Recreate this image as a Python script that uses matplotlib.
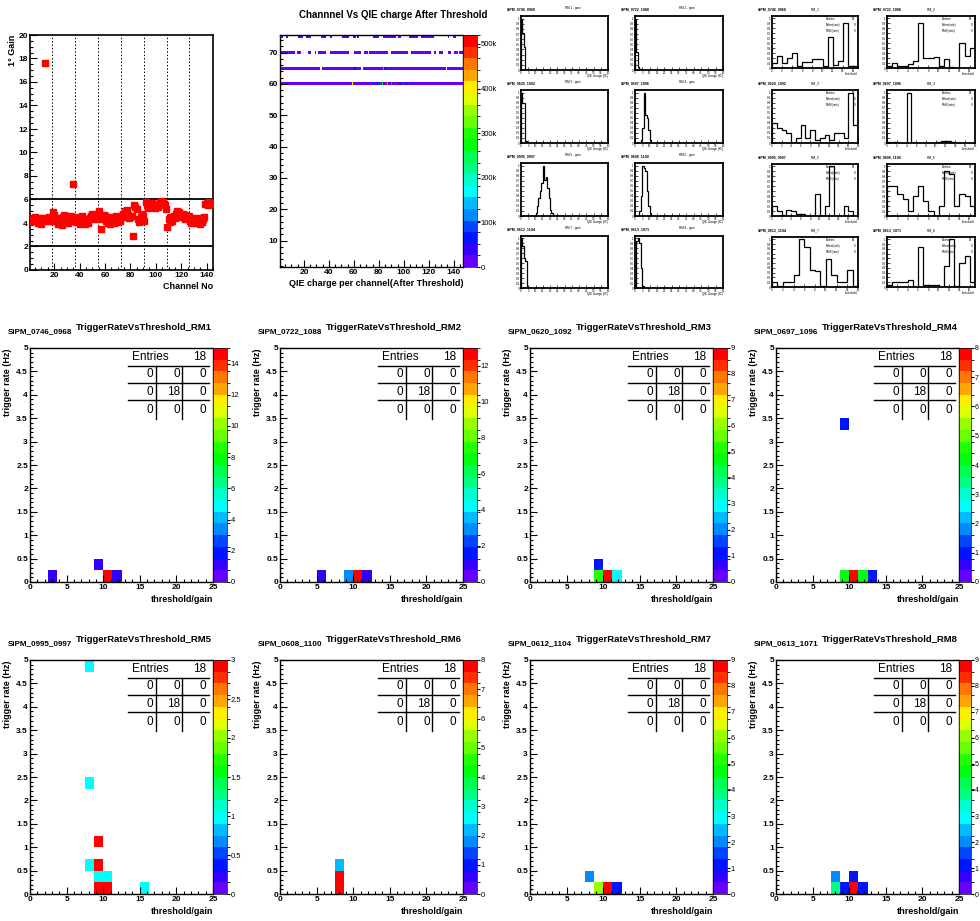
import numpy as np
import matplotlib
matplotlib.use('Agg')
import matplotlib.pyplot as plt
from matplotlib.colors import ListedColormap, BoundaryNorm, hsv_to_rgb
from matplotlib.ticker import MultipleLocator, FuncFormatter
from matplotlib import font_manager
from matplotlib.cm import ScalarMappable

# ---------------- data ----------------
channels = np.arange(1, 145)
gains = [4.1, 4.3, 4.4, 4.2, 4.5, 4.3, 4.0, 4.4, 4.2, 3.9, 4.4, 4.3,
         17.6,
         4.4, 4.2, 4.5, 4.3, 4.2,
         4.9, 4.7,
         4.2, 4.4, 3.9, 4.3, 4.0, 3.8, 4.5, 4.7, 4.1, 4.3, 4.0, 4.4, 4.6, 4.2,
         7.3,
         4.3, 4.1, 4.5, 4.2, 3.9, 4.4, 4.6, 4.0, 3.9, 4.3, 4.2, 4.0, 4.4, 4.6, 4.8, 4.5, 4.3, 4.7, 4.4,
         5.0, 4.6, 3.5, 4.3, 4.7, 4.6, 4.2, 4.0, 4.4, 3.9, 4.5, 4.2, 4.0, 4.3, 4.6, 4.1, 4.4, 4.2,
         4.5, 4.8, 4.6, 5.0, 5.1, 4.7, 4.4, 4.5, 4.6,
         2.9,
         5.5, 5.4, 5.2, 4.3, 4.1, 4.5, 4.8, 4.6,
         4.2,
         5.8, 5.5, 5.3, 5.6, 5.4, 5.7, 5.5, 5.3, 5.6, 5.5, 5.4, 5.7, 5.9, 5.6, 5.8, 5.5,
         5.2,
         3.7,
         4.3, 4.1, 4.5, 4.2, 4.6, 4.4, 4.8, 5.0, 4.9, 4.7, 4.5, 4.8, 4.6, 4.3, 4.7, 4.4, 4.6,
         4.2, 4.0, 4.4, 4.1, 4.3, 4.0, 4.2, 4.4, 3.9, 4.1, 4.3, 4.5,
         5.6, 5.7, 5.5, 5.8, 5.6, 5.7]
gain_limits = [2, 6]
rm_bounds = [18.5, 36.5, 54.5, 72.5, 90.5, 108.5, 126.5]

# channel vs QIE charge 2D histogram: occupied segments per row (channel ranges)
qie_rows = [60, 65, 70, 75]
qie_segments = {
    75: [(2, 3), (6, 7), (16, 19), (22, 25), (34, 37), (41, 42), (51, 56), (60, 61), (63, 64),
         (76, 80), (84, 93), (96, 97), (105, 111), (114, 124), (136, 136), (140, 141)],
    70: [(2, 12), (15, 17), (24, 25), (29, 29), (32, 37), (41, 56), (61, 65), (69, 71), (73, 87),
         (90, 103), (106, 121), (125, 125), (129, 131), (136, 137), (141, 143), (145, 147)],
    65: [(1, 32), (35, 65), (68, 86), (87, 133), (135, 147)],
    60: [(1, 147)],
}
qie_base = 10000
qie_special = {(60, 59): 400000, (60, 75): 60000, (60, 76): 80000, (60, 79): 60000,
               (60, 80): 90000, (60, 83): 280000, (60, 84): 60000, (60, 86): 520000,
               (60, 87): 150000, (60, 89): 60000, (60, 90): 120000, (60, 97): 60000,
               (60, 102): 60000, (60, 106): 50000, (65, 61): 60000, (65, 84): 150000,
               (65, 85): 60000}
qie_zticks = [0, 100000, 200000, 300000, 400000, 500000]
qie_zlabels = ['0', '100k', '200k', '300k', '400k', '500k']

sipm_names = ['SiPM_0746_0968', 'SiPM_0722_1088', 'SiPM_0620_1092', 'SiPM_0697_1096',
              'SiPM_0995_0997', 'SiPM_0608_1100', 'SiPM_0612_1104', 'SiPM_0613_1071']
rm_titles = ['TriggerRateVsThreshold_RM%d' % i for i in range(1, 9)]

# spectra (first block): start bin and bin contents
spec_start = [0, 0, 0, 4, 10, 3, 0, 1]
spec_counts = [
    [1.0, 0.72, 0.45],
    [1.0, 0.35, 0.05, 0.02],
    [1.0, 0.8, 0.8, 0.03],
    [0.05, 0.3, 1.0, 0.55, 0.5, 0.25, 0.05],
    [0.05, 0.2, 0.35, 0.5, 0.65, 1.0, 0.72, 0.78, 0.55, 0.35, 0.12, 0.05, 0.02],
    [0.1, 0.4, 1.0, 0.95, 0.9, 0.5, 0.2, 0.05],
    [1.0, 0.85, 0.6, 0.55, 0.05],
    [0.95, 1.0, 0.9, 0.4, 0.05],
]
# second block histograms
rate_counts = [
    [0.1, 0.25, 0.1, 0.2, 0.3, 0.05, 0.12, 0.12, 0.18, 0.18, 0.05, 0.62, 0.07, 0.15, 0.9, 0.05, 0.05],
    [0.05, 0.1, 0.05, 0.05, 0.08, 0.15, 0.9, 0.2, 0.2, 0.22, 0.05, 0.18, 0.03, 0.0, 0.5, 0.25, 0.4],
    [0.4, 0.3, 0.25, 0.2, 0.0, 0.1, 0.35, 0.1, 0.25, 0.05, 0.1, 0.15, 0.05, 0.2, 0.2, 0.1, 1.0, 0.35],
    [0.02, 0.02, 0.0, 0.0, 1.0, 0.0, 0.0, 0.0, 0.0, 0.0, 0.02, 0.03, 0.03, 0.02, 0.0, 0.0, 0.0, 0.0],
    [0.2, 0.1, 0.02, 0.12, 0.1, 0.05, 0.05, 0.0, 0.0, 0.45, 0.0, 0.2, 1.0, 0.0, 0.0, 0.2, 0.1, 0.0],
    [0.6, 0.6, 0.45, 0.35, 0.1, 0.4, 0.6, 0.3, 0.1, 0.0, 0.2, 0.9, 0.85, 0.2, 0.45, 0.4, 0.2],
    [0.1, 0.03, 0.1, 0.1, 0.25, 1.0, 0.85, 0.35, 0.33, 0.03, 0.58, 0.25, 0.1, 0.1, 0.35, 0.03],
    [0.05, 0.1, 0.1, 0.1, 0.15, 0.0, 0.85, 0.05, 0.05, 0.05, 0.0, 0.45, 1.0, 0.02, 0.5, 0.65, 0.1],
]

# Trigger rate vs threshold 2D histograms (bin centres and contents)
trig_thr = [
    [3.125, 9.375, 10.625, 11.875],
    [5.625, 9.375, 10.625, 11.875],
    [9.375, 9.375, 10.625, 11.875],
    [9.375, 9.375, 10.625, 11.875, 13.125],
    [8.125, 8.125, 8.125, 9.375, 10.625, 15.625, 9.375, 9.375, 9.375, 10.625],
    [8.125, 8.125, 8.125],
    [8.125, 9.375, 10.625, 11.875],
    [8.125, 8.125, 9.375, 10.625, 10.625, 11.875],
]
trig_rate = [
    [0.125, 0.375, 0.125, 0.125],
    [0.125, 0.125, 0.125, 0.125],
    [0.375, 0.125, 0.125, 0.125],
    [3.375, 0.125, 0.125, 0.125, 0.125],
    [4.875, 2.375, 0.625, 0.375, 0.375, 0.125, 1.125, 0.625, 0.125, 0.125],
    [0.125, 0.375, 0.625],
    [0.375, 0.125, 0.125, 0.125],
    [0.375, 0.125, 0.125, 0.125, 0.375, 0.125],
]
trig_n = [
    [1, 1, 15, 1],
    [1, 3, 13, 1],
    [1, 5, 9, 3],
    [1, 4, 8, 4, 1],
    [1, 1, 1, 1, 1, 1, 3, 3, 3, 3],
    [8, 8, 2],
    [2, 6, 9, 1],
    [2, 4, 1, 9, 1, 1],
]
trig_zticks = [
    [0, 2, 4, 6, 8, 10, 12, 14],
    [0, 2, 4, 6, 8, 10, 12],
    list(range(10)),
    list(range(9)),
    [0, 0.5, 1, 1.5, 2, 2.5, 3],
    list(range(9)),
    list(range(10)),
    list(range(10)),
]
entries_table = [[0, 0, 0], [0, 18, 0], [0, 0, 0]]
entries_total = 18

# ---------------- style ----------------
avail = {f.name for f in font_manager.fontManager.ttflist}
NARROW = 'Liberation Sans Narrow' if 'Liberation Sans Narrow' in avail else 'Liberation Sans'
plt.rcParams['font.family'] = [NARROW, 'DejaVu Sans']

W, H = 980, 921
fig = plt.figure(figsize=(W / 100, H / 100), dpi=100)
fig.patch.set_facecolor('white')


def rect(x0, y0, x1, y1):
    return [x0 / W, 1 - y1 / H, (x1 - x0) / W, (y1 - y0) / H]


def ftext(x, y, s, **kw):
    fig.text(x / W, 1 - y / H, s, **kw)


gfmt = FuncFormatter(lambda v, p: '%g' % v)

# ROOT "pretty" palette, 20 contours
pretty = [hsv_to_rgb([((280 - (k + 1) * 5.6) % 360) / 360, 1, 1]) for k in range(49)] + [(1, 0, 0)]
pal_idx = [int((i + 0.99) * 50 / 20) for i in range(20)]
cmap20 = ListedColormap([pretty[j] for j in pal_idx])
cmap20.set_over(pretty[49])
cmap20.set_bad((1, 1, 1, 0))


def style_axes(ax, lw=1.0):
    for s in ax.spines.values():
        s.set_linewidth(lw)
    ax.tick_params(which='both', direction='in', top=False, right=False, labelsize=6, pad=1.5,
                   width=0.8)
    ax.tick_params(which='major', length=5)
    ax.tick_params(which='minor', length=2.5)
    for lab in ax.get_xticklabels() + ax.get_yticklabels():
        lab.set_fontweight('bold')


def palette_axis(cax, zmax, ticks, labels=None, lsize=5.5):
    levels = np.linspace(0, zmax, 21)
    norm = BoundaryNorm(levels, 20)
    cb = fig.colorbar(ScalarMappable(norm=norm, cmap=cmap20), cax=cax)
    cb.outline.set_linewidth(0.5)
    cb.set_ticks(ticks)
    if labels is not None:
        cb.set_ticklabels(labels)
    else:
        cb.ax.yaxis.set_major_formatter(gfmt)
    cb.ax.tick_params(direction='out', length=2, labelsize=lsize, pad=0.5, width=0.8)
    return norm


# ---------------- panel 1: gain vs channel ----------------
ax = fig.add_axes(rect(30, 35, 213, 270))
style_axes(ax, 1.2)
ax.plot(channels, gains, 's', color='red', ms=4, mec='red', zorder=3)
for v in gain_limits:
    ax.axhline(v, color='black', lw=1.3)
for b in rm_bounds:
    ax.axvline(b, color='black', lw=0.7, ls=(0, (1.5, 2)))
ax.set_xlim(1, 145)
ax.set_ylim(0, 20)
ax.xaxis.set_major_locator(MultipleLocator(20))
ax.xaxis.set_minor_locator(MultipleLocator(5))
ax.yaxis.set_major_locator(MultipleLocator(2))
ax.yaxis.set_minor_locator(MultipleLocator(0.5))
ax.set_ylabel('1° Gain', loc='top', fontsize=6.5, labelpad=1, fontweight='bold')
ax.set_xlabel('Channel No', loc='right', fontsize=6.5, labelpad=2, fontweight='bold')

# ---------------- panel 2: channel vs QIE ----------------
xe = np.arange(0.5, 148.5, 1)
ye = np.arange(0.5, 76.5, 1)
Zq = np.zeros((len(ye) - 1, len(xe) - 1))
for row in qie_rows:
    for a, b in qie_segments[row]:
        for ch in range(a, b + 1):
            Zq[row - 1, ch - 1] = qie_base
for (row, ch), v in qie_special.items():
    Zq[row - 1, ch - 1] = v
ax = fig.add_axes(rect(280, 35, 463, 267))
cax = fig.add_axes(rect(463, 35, 477, 267))
style_axes(ax, 1.0)
norm = palette_axis(cax, 520000, qie_zticks, qie_zlabels)
ax.pcolormesh(xe, ye, np.ma.masked_equal(Zq, 0), cmap=cmap20, norm=norm)
ax.set_xlim(0.8, 147.5)
ax.set_ylim(1.6, 75.6)
ax.xaxis.set_major_locator(MultipleLocator(20))
ax.xaxis.set_minor_locator(MultipleLocator(5))
ax.yaxis.set_major_locator(MultipleLocator(10))
ax.yaxis.set_minor_locator(MultipleLocator(2))
ax.set_xlabel('QIE charge per channel(After Threshold)', loc='right', fontsize=6.5, labelpad=2,
              fontweight='bold')
ftext(393, 15, 'Channnel Vs QIE charge After Threshold', ha='center', va='center', fontsize=7,
      fontweight='bold')

# ---------------- mini histograms ----------------
cols1 = [(521, 608), (635, 723)]
rows1 = [(16, 70), (90, 143), (163, 216), (236, 288)]
cols2 = [(772, 858), (887, 975)]
rows2 = [(16, 68), (90, 143), (164, 216), (237, 287)]


def mini_style(ax):
    for s in ax.spines.values():
        s.set_linewidth(1.3)
    ax.tick_params(which='both', direction='in', top=False, right=False, labelsize=2.2, pad=0.8,
                   width=0.5, length=2)
    ax.tick_params(which='minor', length=1)


for i in range(8):
    r, c = divmod(i, 2)
    x0, x1 = cols1[c]
    y0, y1 = rows1[r]
    ax = fig.add_axes(rect(x0, y0, x1, y1))
    mini_style(ax)
    cnt = spec_counts[i]
    edges = np.arange(spec_start[i], spec_start[i] + len(cnt) + 1)
    ax.stairs(cnt, edges, color='black', lw=0.9)
    ax.set_xlim(0, 60)
    ax.set_ylim(0, 1.05)
    ax.xaxis.set_major_locator(MultipleLocator(5))
    ax.yaxis.set_major_locator(MultipleLocator(0.1))
    ax.xaxis.set_major_formatter(gfmt)
    ax.yaxis.set_major_formatter(gfmt)
    ftext(x0 - 14, y0 - 5, sipm_names[i], fontsize=2.6, ha='left', va='bottom', weight='bold')
    ftext((x0 + x1) / 2 + 8, y0 - 6, 'RM %d - gain' % (i + 1), fontsize=2.2, ha='center', va='bottom')
    ftext(x1, y1 + 6, 'QIE charge (fC)', fontsize=2.2, ha='right', va='center')

for i in range(8):
    r, c = divmod(i, 2)
    x0, x1 = cols2[c]
    y0, y1 = rows2[r]
    ax = fig.add_axes(rect(x0, y0, x1, y1))
    mini_style(ax)
    cnt = rate_counts[i]
    edges = np.arange(len(cnt) + 1)
    ax.stairs(cnt, edges, color='black', lw=0.9)
    ax.set_xlim(0, len(cnt))
    ax.set_ylim(0, 1.05)
    ax.xaxis.set_major_locator(MultipleLocator(2))
    ax.yaxis.set_major_locator(MultipleLocator(0.1))
    ax.xaxis.set_major_formatter(gfmt)
    ax.yaxis.set_major_formatter(gfmt)
    ftext(x0 - 14, y0 - 5, sipm_names[i], fontsize=2.6, ha='left', va='bottom', weight='bold')
    ftext((x0 + x1) / 2, y0 - 5, 'RM_%d' % (i + 1), fontsize=2.4, ha='center', va='bottom')
    bx0 = x0 + 0.62 * (x1 - x0)
    ftext(bx0, y0 + 3, 'Entries', fontsize=2.2, ha='left', va='center')
    ftext(bx0, y0 + 9, 'Mean(rate)', fontsize=2.2, ha='left', va='center')
    ftext(bx0, y0 + 15, 'RMS(rate)', fontsize=2.2, ha='left', va='center')
    ftext(x1 - 3, y0 + 3, '18', fontsize=2.2, ha='right', va='center')
    ftext(x1 - 3, y0 + 9, '0', fontsize=2.2, ha='right', va='center')
    ftext(x1 - 3, y0 + 15, '0', fontsize=2.2, ha='right', va='center')
    ftext(x1, y1 + 6, 'threshold', fontsize=2.2, ha='right', va='center')

# ---------------- trigger rate vs threshold panels ----------------
panel_x = [30, 280, 530, 776]
panel_y = [348, 660]
cb_w = [14, 14, 14, 12]
tx_edges = np.linspace(0, 25, 21)
ty_edges = np.linspace(0, 5, 21)

for i in range(8):
    r, c = divmod(i, 4)
    x0 = panel_x[c]
    y0 = panel_y[r]
    x1, y1 = x0 + 183, y0 + 234
    ax = fig.add_axes(rect(x0, y0, x1, y1))
    cax = fig.add_axes(rect(x1, y0, x1 + cb_w[c], y1))
    style_axes(ax, 1.0)
    Zt, _, _ = np.histogram2d(trig_thr[i], trig_rate[i], bins=[tx_edges, ty_edges], weights=trig_n[i])
    zmax = Zt.max()
    norm = palette_axis(cax, zmax, trig_zticks[i], lsize=5.5 if c < 3 else 5)
    ax.pcolormesh(tx_edges, ty_edges, np.ma.masked_equal(Zt.T, 0), cmap=cmap20, norm=norm)
    ax.set_xlim(0, 25)
    ax.set_ylim(0, 5)
    ax.xaxis.set_major_locator(MultipleLocator(5))
    ax.xaxis.set_minor_locator(MultipleLocator(1))
    ax.yaxis.set_major_locator(MultipleLocator(0.5))
    ax.yaxis.set_minor_locator(MultipleLocator(0.1))
    ax.xaxis.set_major_formatter(gfmt)
    ax.yaxis.set_major_formatter(gfmt)
    ax.set_ylabel('trigger rate (Hz)', loc='top', fontsize=6.5, labelpad=3, fontweight='bold')
    ax.set_xlabel('threshold/gain', loc='right', fontsize=6.5, labelpad=3, fontweight='bold')
    ftext(x0 - 22, y0 - 16, sipm_names[i], fontsize=5.8, ha='left', va='center', fontweight='bold')
    ftext((x0 + x1) / 2 + 22, y0 - 20, rm_titles[i], fontsize=6.8, ha='center', va='center',
          fontweight='bold')
    # stats table
    T = ax.transAxes
    bx0, bx1 = 0.538, 0.978
    hl = [0.923, 0.852, 0.776]
    for yy in hl:
        ax.plot([bx0, bx1], [yy, yy], color='black', lw=1.0, transform=T, clip_on=False)
    for xx in [0.687, 0.833]:
        ax.plot([xx, xx], [hl[0], 0.698], color='black', lw=1.0, transform=T, clip_on=False)
    ax.text(0.56, 0.962, 'Entries', fontsize=8.5, transform=T, ha='left', va='center')
    ax.text(0.965, 0.962, '%d' % entries_total, fontsize=8.5, transform=T, ha='right', va='center')
    colx = [0.675, 0.82, 0.965]
    rowy = [0.888, 0.814, 0.737]
    for rr in range(3):
        for cc in range(3):
            ax.text(colx[cc], rowy[rr], '%d' % entries_table[rr][cc], fontsize=8.5, transform=T,
                    ha='right', va='center')

fig.savefig('out.png', dpi=100, facecolor='white')
